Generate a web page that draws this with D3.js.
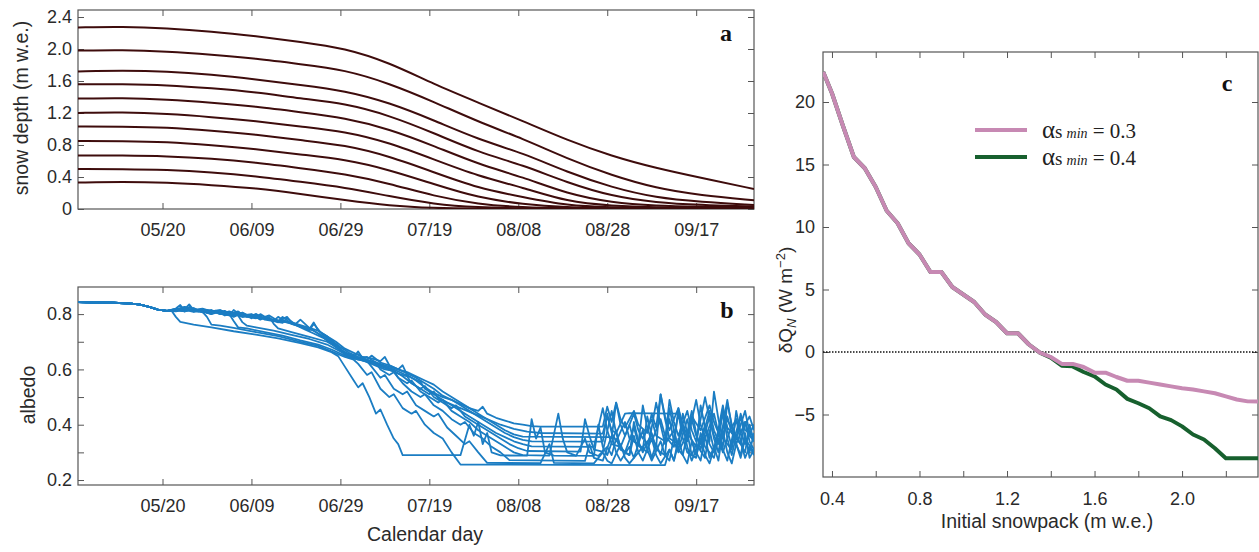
<!DOCTYPE html>
<html>
<head>
<meta charset="utf-8">
<script src="https://cdn.jsdelivr.net/npm/d3@7"></script>
<style>
  body { margin: 0; background: #fff; }
  svg { display: block; font-family: "Liberation Sans", Arial, sans-serif; }
</style>
</head>
<body>
<svg width="1259" height="552"></svg>
<script>
// ---------------- data ----------------
// season shown in panels a and b
const seasonStart = "2015/05/01";
const seasonEnd = "2015/09/30";
const dateTickLabels = ["05/20", "06/09", "06/29", "07/19", "08/08", "08/28", "09/17"];

// a: snow depth (m w.e.), sampled at these day offsets from May 1
const depthDays = [0, 10, 20, 30, 40, 50, 60, 70, 80, 90, 100, 110, 120, 130, 140, 152];
const depth227 = [2.27, 2.28, 2.26, 2.22, 2.16, 2.09, 2.01, 1.83, 1.56, 1.33, 1.10, 0.86, 0.66, 0.51, 0.39, 0.25];
const depth198 = [1.98, 1.99, 1.97, 1.93, 1.88, 1.81, 1.74, 1.57, 1.34, 1.09, 0.88, 0.63, 0.42, 0.26, 0.17, 0.11];
const depth172 = [1.72, 1.73, 1.72, 1.68, 1.62, 1.55, 1.48, 1.33, 1.11, 0.87, 0.70, 0.46, 0.27, 0.14, 0.09, 0.05];
const depth156 = [1.56, 1.56, 1.55, 1.51, 1.46, 1.38, 1.32, 1.17, 0.95, 0.71, 0.55, 0.33, 0.16, 0.08, 0.05, 0.03];
const depth138 = [1.38, 1.39, 1.37, 1.33, 1.28, 1.21, 1.14, 1.00, 0.79, 0.56, 0.40, 0.19, 0.08, 0.04, 0.03, 0.02];
const depth120 = [1.20, 1.21, 1.19, 1.15, 1.10, 1.03, 0.97, 0.83, 0.62, 0.41, 0.27, 0.09, 0.04, 0.02, 0.02, 0.01];
const depth103 = [1.03, 1.03, 1.02, 0.98, 0.93, 0.86, 0.80, 0.66, 0.46, 0.26, 0.15, 0.04, 0.02, 0.01, 0.01, 0.01];
const depth085 = [0.85, 0.85, 0.84, 0.80, 0.75, 0.68, 0.62, 0.49, 0.31, 0.14, 0.06, 0.02, 0.01, 0.01, 0.01, 0.01];
const depth067 = [0.67, 0.67, 0.66, 0.63, 0.58, 0.51, 0.44, 0.32, 0.16, 0.06, 0.02, 0.01, 0.01, 0.005, 0.005, 0.005];
const depth050 = [0.50, 0.50, 0.49, 0.46, 0.41, 0.34, 0.27, 0.16, 0.06, 0.02, 0.01, 0.005, 0.005, 0.005, 0.005, 0.005];
const depth033 = [0.33, 0.34, 0.33, 0.30, 0.26, 0.19, 0.11, 0.04, 0.01, 0.005, 0.005, 0.005, 0.005, 0.005, 0.005, 0.005];

// b: albedo, [day offset from May 1, albedo]; all runs share the early-spring part
const albedoSpring = [[0, .843], [4, .842], [8, .841], [12, .838], [14, .834], [16, .826], [18, .816], [20, .812]];
const albedo033 = [[21, .813], [22, .79], [23, .772], [26, .762], [30, .752], [35, .738], [40, .726], [45, .712], [50, .695],
  [54, .68], [57, .662], [58.5, .648], [60, .61], [62, .56], [63, .535], [64, .55], [65.5, .50], [67, .44], [68, .455],
  [69.5, .40], [71, .35], [72, .33], [73, .29], [80, .29], [86, .29], [88, .40], [89, .36], [90, .41], [91, .33], [92, .37],
  [93, .30], [95, .289], [101, .288], [102, .42], [103, .35], [104, .39], [105, .30], [107, .288], [112, .287], [114, .35],
  [115, .30], [117, .287], [119, .32], [120, .29], [121, .35], [122, .31], [124, .29], [125, .36], [126, .30], [128, .34],
  [129, .28], [130, .33], [131, .29], [133, .42], [134, .34], [135, .30], [137, .37], [138, .29], [139, .33], [141, .28],
  [142, .38], [143, .31], [145, .44], [146, .35], [147, .29], [148, .36], [150, .30], [151, .40], [152, .34]];
const albedo050 = [[22, .814], [24, .82], [26, .812], [28, .808], [29, .79], [30, .762], [32, .758], [35, .75], [40, .735],
  [45, .72], [50, .70], [54, .685], [57, .665], [60, .645], [62, .635], [63, .62], [65, .58], [66, .59], [68, .53], [70, .50],
  [71, .51], [73, .46], [75, .44], [76, .45], [78, .40], [80, .37], [82, .35], [84, .30], [86, .256], [110, .255], [132, .254],
  [133, .31], [134, .27], [135, .35], [136, .29], [137, .26], [138, .34], [139, .30], [140, .27], [141, .36], [142, .28],
  [143, .32], [144, .27], [145, .38], [146, .30], [147, .26], [148, .33], [149, .29], [150, .37], [151, .28], [152, .31]];
const albedo067 = [[22, .815], [24, .826], [26, .81], [28, .815], [30, .805], [32, .812], [34, .80], [35, .775], [36, .752],
  [38, .748], [42, .735], [46, .722], [50, .705], [54, .69], [57, .672], [60, .65], [63, .635], [65, .63], [66, .61], [68, .57],
  [69, .58], [71, .53], [73, .51], [74, .52], [76, .47], [78, .45], [80, .43], [81, .44], [83, .39], [85, .36], [87, .33],
  [88, .34], [90, .30], [92, .262], [104, .261], [106, .33], [107, .262], [116, .26], [118, .30], [119, .27], [120, .26],
  [122, .33], [123, .28], [124, .26], [126, .30], [127, .27], [129, .35], [130, .29], [131, .26], [133, .31], [134, .27],
  [136, .40], [137, .32], [138, .27], [140, .35], [141, .29], [142, .26], [144, .37], [145, .31], [146, .27], [148, .42],
  [149, .34], [150, .28], [151, .32], [152, .29]];
const albedo085 = [[22, .818], [24, .81], [26, .822], [28, .806], [30, .812], [32, .80], [34, .808], [36, .795], [37, .77],
  [38, .758], [40, .752], [44, .74], [48, .725], [52, .71], [56, .69], [59, .665], [62, .64], [65, .628], [67, .625], [68, .60],
  [70, .58], [71, .59], [73, .55], [75, .52], [77, .50], [78, .51], [80, .47], [82, .45], [84, .42], [86, .40], [87, .41],
  [89, .37], [91, .35], [93, .32], [95, .30], [97, .272], [114, .269], [115, .33], [116, .28], [118, .27], [120, .36],
  [121, .30], [122, .27], [124, .32], [125, .28], [127, .38], [128, .31], [129, .27], [131, .34], [132, .29], [133, .27],
  [135, .44], [136, .35], [137, .30], [139, .28], [140, .37], [141, .32], [143, .28], [144, .35], [145, .30], [147, .40],
  [148, .33], [149, .28], [150, .35], [152, .30]];
const albedo103 = [[22, .82], [23, .833], [24, .812], [26, .815], [28, .81], [30, .80], [31, .812], [33, .795], [35, .80],
  [37, .79], [39, .798], [41, .785], [43, .79], [44, .765], [45, .748], [48, .735], [52, .718], [56, .70], [59, .672],
  [62, .645], [66, .62], [69, .60], [71, .595], [72, .57], [74, .55], [75, .56], [77, .52], [79, .50], [81, .48], [82, .49],
  [84, .45], [86, .43], [88, .41], [90, .38], [92, .36], [94, .34], [96, .32], [98, .30], [100, .29], [106, .288], [108, .44],
  [109, .35], [110, .30], [112, .288], [116, .287], [117, .40], [118, .32], [119, .29], [121, .38], [122, .31], [124, .29],
  [125, .41], [126, .34], [127, .30], [129, .37], [130, .31], [132, .29], [133, .46], [134, .38], [135, .31], [137, .42],
  [138, .34], [139, .29], [141, .40], [142, .33], [143, .30], [145, .47], [146, .38], [147, .32], [149, .43], [150, .35],
  [151, .30], [152, .37]];
const albedo120 = [[22, .818], [24, .825], [26, .81], [28, .815], [29, .805], [31, .81], [33, .80], [35, .792], [36, .808],
  [38, .79], [40, .785], [41, .80], [43, .78], [45, .775], [47, .79], [48, .77], [50, .76], [52, .75], [54, .73], [56, .705],
  [58, .68], [60, .655], [63, .64], [66, .625], [69, .605], [72, .585], [74, .575], [75, .55], [77, .53], [78, .54], [80, .50],
  [82, .48], [84, .46], [85, .47], [87, .43], [89, .41], [91, .39], [93, .37], [95, .35], [97, .33], [99, .315], [101, .305],
  [113, .303], [114, .42], [115, .36], [116, .31], [118, .303], [120, .45], [121, .37], [122, .32], [123, .30], [125, .39],
  [126, .33], [128, .30], [130, .48], [131, .40], [132, .33], [134, .38], [135, .31], [136, .29], [138, .45], [139, .37],
  [140, .31], [142, .43], [143, .35], [144, .30], [146, .49], [147, .39], [148, .33], [150, .41], [151, .34], [152, .31]];
const albedo138 = [[22, .812], [24, .818], [25, .835], [26, .815], [28, .82], [30, .81], [32, .815], [34, .80], [36, .81],
  [37, .795], [39, .80], [41, .78], [42, .79], [44, .775], [46, .768], [47, .785], [49, .762], [51, .75], [53, .74], [55, .72],
  [57, .70], [59, .67], [61, .645], [63, .655], [65, .63], [67, .62], [69, .61], [71, .60], [73, .585], [75, .57], [77, .555],
  [78, .53], [80, .51], [82, .49], [84, .47], [86, .45], [88, .43], [90, .41], [92, .39], [94, .37], [96, .355], [98, .34],
  [100, .33], [102, .322], [116, .32], [118, .46], [119, .38], [120, .33], [122, .32], [124, .40], [125, .34], [127, .31],
  [128, .43], [129, .36], [130, .32], [131, .51], [132, .42], [133, .35], [135, .33], [136, .44], [137, .37], [139, .32],
  [140, .47], [141, .39], [142, .34], [143, .52], [144, .42], [145, .35], [147, .31], [148, .45], [149, .37], [150, .33],
  [152, .40]];
const albedo156 = [[22, .815], [24, .81], [26, .82], [27, .81], [29, .815], [31, .805], [33, .812], [35, .79], [37, .805],
  [39, .785], [40, .80], [42, .78], [44, .775], [45, .79], [47, .77], [49, .765], [50, .78], [52, .75], [54, .74], [56, .72],
  [58, .69], [60, .66], [62, .645], [63, .665], [64, .64], [66, .63], [68, .62], [70, .61], [72, .60], [74, .585], [76, .57],
  [78, .55], [80, .53], [82, .505], [84, .49], [86, .47], [88, .45], [90, .43], [92, .41], [94, .39], [96, .37], [98, .355],
  [100, .345], [102, .34], [118, .339], [119, .44], [120, .37], [121, .34], [123, .41], [124, .35], [126, .33], [127, .47],
  [128, .39], [129, .34], [131, .42], [132, .36], [134, .32], [135, .46], [136, .38], [137, .34], [139, .49], [140, .40],
  [141, .35], [143, .44], [144, .37], [145, .32], [146, .48], [147, .40], [148, .35], [150, .45], [151, .37], [152, .34]];
const albedo172 = [[22, .81], [24, .815], [26, .808], [28, .812], [30, .80], [32, .81], [34, .795], [35, .815], [37, .79],
  [39, .795], [41, .783], [43, .785], [45, .77], [46, .79], [48, .765], [50, .755], [52, .74], [53, .765], [55, .725],
  [57, .705], [59, .68], [61, .66], [63, .645], [65, .635], [66, .65], [68, .625], [70, .615], [72, .60], [74, .59], [76, .575],
  [78, .56], [80, .545], [82, .52], [84, .50], [86, .48], [88, .46], [90, .44], [92, .42], [94, .40], [96, .38], [98, .365],
  [100, .357], [120, .355], [121, .48], [122, .40], [123, .36], [125, .44], [126, .38], [127, .35], [129, .42], [130, .36],
  [132, .34], [133, .49], [134, .41], [135, .36], [137, .45], [138, .38], [139, .34], [141, .50], [142, .42], [143, .36],
  [144, .33], [145, .46], [146, .39], [148, .35], [149, .44], [150, .38], [152, .36]];
const albedo198 = [[22, .815], [24, .81], [25, .826], [27, .81], [29, .805], [31, .81], [33, .80], [35, .795], [37, .805],
  [39, .79], [41, .785], [43, .795], [45, .775], [47, .77], [49, .76], [51, .745], [53, .73], [55, .715], [57, .695], [59, .67],
  [61, .655], [63, .64], [65, .645], [67, .625], [69, .61], [71, .595], [73, .575], [75, .55], [77, .53], [79, .51], [80, .52],
  [81, .495], [83, .48], [86, .46], [89, .44], [92, .42], [95, .40], [98, .385], [101, .375], [104, .37], [118, .368],
  [119, .43], [120, .38], [121, .37], [123, .44], [124, .442], [135, .44], [136, .38], [137, .35], [138, .42], [139, .36],
  [140, .33], [142, .45], [143, .38], [144, .34], [146, .43], [147, .37], [149, .33], [150, .41], [151, .36], [152, .34]];
const albedo227 = [[22, .818], [24, .812], [26, .82], [28, .808], [30, .815], [32, .80], [34, .81], [36, .798], [38, .79],
  [40, .80], [42, .785], [44, .78], [46, .775], [48, .768], [50, .755], [52, .745], [53, .77], [54, .74], [56, .72], [58, .70],
  [60, .675], [62, .66], [64, .645], [66, .64], [68, .63], [69, .645], [70, .615], [72, .60], [73, .615], [74, .58], [76, .56],
  [78, .535], [80, .515], [82, .50], [84, .49], [86, .475], [88, .46], [90, .45], [91, .465], [92, .44], [94, .425], [96, .415],
  [98, .405], [100, .40], [102, .395], [104, .393], [118, .393], [119, .465], [120, .41], [121, .48], [122, .42], [123, .39],
  [125, .45], [126, .40], [128, .37], [129, .44], [130, .39], [131, .51], [132, .43], [133, .38], [135, .46], [136, .40],
  [137, .36], [138, .43], [140, .38], [142, .47], [143, .41], [144, .37], [145, .44], [147, .39], [148, .42], [149, .37],
  [151, .43], [152, .38]];

// c: change in net shortwave flux vs initial snowpack
const snowpack = [0.36, 0.40, 0.45, 0.50, 0.55, 0.60, 0.65, 0.70, 0.75, 0.80, 0.85, 0.90, 0.95, 1.00, 1.05, 1.10, 1.15,
  1.20, 1.25, 1.30, 1.35, 1.40, 1.45, 1.50, 1.55, 1.60, 1.65, 1.70, 1.75, 1.80, 1.85, 1.90, 1.95, 2.00, 2.05, 2.10, 2.15,
  2.20, 2.25, 2.30, 2.35];
const dQmin03 = [22.4, 20.7, 18.1, 15.6, 14.7, 13.2, 11.3, 10.3, 8.7, 7.8, 6.4, 6.4, 5.2, 4.6, 4.0, 3.0, 2.4,
  1.5, 1.5, 0.6, -0.05, -0.4, -0.95, -0.95, -1.2, -1.65, -1.65, -2.0, -2.3, -2.3, -2.45, -2.6, -2.75, -2.9, -3.0, -3.15, -3.3,
  -3.55, -3.8, -3.95, -3.97];
const dQmin04 = [22.4, 20.7, 18.1, 15.6, 14.7, 13.2, 11.3, 10.3, 8.7, 7.8, 6.4, 6.4, 5.2, 4.6, 4.0, 3.0, 2.4,
  1.5, 1.5, 0.6, -0.05, -0.45, -1.1, -1.15, -1.6, -1.95, -2.6, -3.0, -3.75, -4.1, -4.5, -5.15, -5.45, -5.95, -6.6, -7.0, -7.7,
  -8.5, -8.5, -8.5, -8.5];

// ---------------- drawing ----------------
const svg = d3.select("svg");
const parseDay = d3.utcParse("%Y/%m/%d");
const t0 = parseDay(seasonStart);
const dayToDate = d => new Date(t0.getTime() + d * 864e5);

const axisColor = "#555";
const textColor = "#2a2a2a";

/**
 * Boxed axes with inward ticks on all four sides (matlab style)
 */
const drawFrame = (x, y, xTicks, xFmt, yTicks, yFmt, xPad, yPad) => {
    const [x0, x1] = x.range();
    const [y0, y1] = y.range();
    const g = svg.append("g");

    const style = sel => {
        sel.select(".domain").remove();
        sel.attr("font-size", 18).attr("font-family", "'Liberation Sans', Arial, sans-serif").attr("color", textColor);
        sel.selectAll(".tick line").attr("stroke", axisColor);
    };

    g.append("g").attr("transform", `translate(0,${y0})`)
        .call(d3.axisBottom(x).tickValues(xTicks).tickFormat(xFmt).tickSize(-6).tickPadding(xPad))
        .call(style);
    g.append("g").attr("transform", `translate(0,${y1})`)
        .call(d3.axisTop(x).tickValues(xTicks).tickFormat("").tickSize(-6))
        .call(style);
    g.append("g").attr("transform", `translate(${x0},0)`)
        .call(d3.axisLeft(y).tickValues(yTicks).tickFormat(yFmt).tickSize(-6).tickPadding(yPad))
        .call(style);
    g.append("g").attr("transform", `translate(${x1},0)`)
        .call(d3.axisRight(y).tickValues(yTicks).tickFormat("").tickSize(-6))
        .call(style);

    g.append("rect")
        .attr("x", x0).attr("y", y1)
        .attr("width", x1 - x0).attr("height", y0 - y1)
        .attr("fill", "none").attr("stroke", axisColor).attr("stroke-width", 1.2);
    return g;
};

const clip = (id, x, y) => {
    const [x0, x1] = x.range();
    const [y0, y1] = y.range();
    svg.append("clipPath").attr("id", id).append("rect")
        .attr("x", x0).attr("y", y1).attr("width", x1 - x0).attr("height", y0 - y1);
};

const rotLabel = (x, y, txt) => svg.append("text")
    .attr("transform", `translate(${x},${y}) rotate(-90)`)
    .attr("text-anchor", "middle")
    .attr("font-size", 19.5)
    .attr("fill", textColor)
    .text(txt);

const panelLetter = (x, y, txt) => svg.append("text")
    .attr("x", x).attr("y", y)
    .attr("text-anchor", "middle")
    .attr("font-family", "'Liberation Serif', 'Times New Roman', serif")
    .attr("font-weight", "bold")
    .attr("font-size", 24)
    .attr("fill", "#111")
    .text(txt);

// shared date axis
const xDateA = d3.scaleUtc().domain([parseDay(seasonStart), parseDay(seasonEnd)]).range([78, 754]);
const xDateB = xDateA.copy();
const dateTicks = dateTickLabels.map(s => parseDay("2015/" + s));
const fmtDate = d3.utcFormat("%m/%d");

// ---- panel a ----
const yDepth = d3.scaleLinear().domain([0, 2.4875]).range([209, 10]);
drawFrame(xDateA, yDepth, dateTicks, fmtDate,
    [0, 0.4, 0.8, 1.2, 1.6, 2.0, 2.4], v => v === 0 ? "0" : v.toFixed(1), 14, 6);
clip("clipA", xDateA, yDepth);

const depthRuns = [depth227, depth198, depth172, depth156, depth138, depth120, depth103, depth085, depth067, depth050, depth033];
const depthLine = d3.line()
    .x((v, i) => xDateA(dayToDate(depthDays[i])))
    .y(v => yDepth(v))
    .curve(d3.curveBasis);

svg.append("g").attr("clip-path", "url(#clipA)")
    .selectAll("path").data(depthRuns).enter().append("path")
    .attr("d", depthLine)
    .attr("fill", "none")
    .attr("stroke", "#3e0c0c")
    .attr("stroke-width", 2);

rotLabel(28, 108, "snow depth (m w.e.)");
panelLetter(726, 41, "a");

// ---- panel b ----
const yAlb = d3.scaleLinear().domain([0.182, 0.898]).range([485, 287]);
drawFrame(xDateB, yAlb, dateTicks, fmtDate,
    [0.2, 0.3, 0.4, 0.5, 0.6, 0.7, 0.8], v => [0.2, 0.4, 0.6, 0.8].some(t => Math.abs(t - v) < 1e-6) ? v.toFixed(1) : "", 14, 6);
clip("clipB", xDateB, yAlb);

const albedoRuns = [albedo227, albedo198, albedo172, albedo156, albedo138, albedo120, albedo103, albedo085, albedo067, albedo050, albedo033]
    .map(run => albedoSpring.concat(run));
const albLine = d3.line()
    .x(d => xDateB(dayToDate(d[0])))
    .y(d => yAlb(d[1]));

svg.append("g").attr("clip-path", "url(#clipB)")
    .selectAll("path").data(albedoRuns).enter().append("path")
    .attr("d", albLine)
    .attr("fill", "none")
    .attr("stroke", "#1b7dc3")
    .attr("stroke-width", 1.8)
    .attr("stroke-linejoin", "round");

rotLabel(35, 395, "albedo");
panelLetter(727, 318, "b");

svg.append("text")
    .attr("x", 425).attr("y", 541)
    .attr("text-anchor", "middle")
    .attr("font-size", 19.5)
    .attr("fill", textColor)
    .text("Calendar day");

// ---- panel c ----
const xSnow = d3.scaleLinear().domain([0.359, 2.347]).range([823, 1258]);
const yDQ = d3.scaleLinear().domain([-10, 24]).range([477, 52]);
drawFrame(xSnow, yDQ, [0.4, 0.6, 0.8, 1.0, 1.2, 1.4, 1.6, 1.8, 2.0, 2.2],
    v => [0.4, 0.8, 1.2, 1.6, 2.0].some(t => Math.abs(t - v) < 1e-6) ? v.toFixed(1) : "",
    [-5, 0, 5, 10, 15, 20], d3.format("d"), 15, 8);
clip("clipC", xSnow, yDQ);

svg.append("line")
    .attr("x1", xSnow.range()[0]).attr("x2", xSnow.range()[1])
    .attr("y1", yDQ(0)).attr("y2", yDQ(0))
    .attr("stroke", "#111").attr("stroke-width", 1.3)
    .attr("stroke-dasharray", "1.5,1.5");

const dqSeries = [
    { values: dQmin04, color: "#17602e", min: "0.4" },
    { values: dQmin03, color: "#c789b3", min: "0.3" }
];
const dqLine = d3.line()
    .x((v, i) => xSnow(snowpack[i]))
    .y(v => yDQ(v));

svg.append("g").attr("clip-path", "url(#clipC)")
    .selectAll("path").data(dqSeries).enter().append("path")
    .attr("d", d => dqLine(d.values))
    .attr("fill", "none")
    .attr("stroke", d => d.color)
    .attr("stroke-width", 4)
    .attr("stroke-linejoin", "round");

// legend, pink first
const legend = svg.append("g");
[dqSeries[1], dqSeries[0]].forEach((s, i) => {
    const ly = 130 + i * 27;
    legend.append("line")
        .attr("x1", 975).attr("x2", 1027).attr("y1", ly).attr("y2", ly)
        .attr("stroke", s.color).attr("stroke-width", 4);
    const t = legend.append("text")
        .attr("x", 1042).attr("y", ly + 8)
        .attr("font-family", "'Liberation Serif', 'Times New Roman', serif")
        .attr("fill", "#222");
    t.append("tspan").attr("font-size", 25).text("α");
    t.append("tspan").attr("font-size", 19).text("s");
    t.append("tspan").attr("font-size", 14).attr("font-style", "italic").attr("dx", 4).text("min");
    t.append("tspan").attr("font-size", 21).text(" = " + s.min);
});

// y label with sub/superscripts
const yl = svg.append("text")
    .attr("transform", "translate(792,300) rotate(-90)")
    .attr("text-anchor", "middle")
    .attr("font-size", 19)
    .attr("fill", textColor);
yl.append("tspan").text("δQ");
yl.append("tspan").attr("font-size", 13).attr("font-style", "italic").attr("dy", 4).text("N");
yl.append("tspan").attr("dy", -4).text(" (W m");
yl.append("tspan").attr("font-size", 13).attr("dy", -7).text("−2");
yl.append("tspan").attr("dy", 7).text(")");

svg.append("text")
    .attr("x", 1047).attr("y", 528)
    .attr("text-anchor", "middle")
    .attr("font-size", 19.5)
    .attr("fill", textColor)
    .text("Initial snowpack (m w.e.)");

panelLetter(1227, 91, "c");
</script>
</body>
</html>
